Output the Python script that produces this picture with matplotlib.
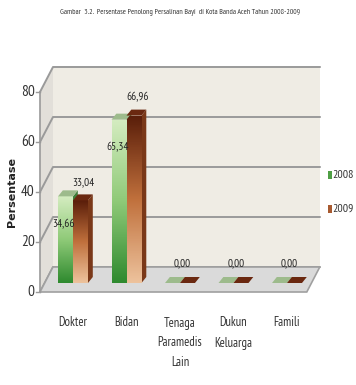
#!/usr/bin/env python

import numpy as np
import matplotlib
matplotlib.use("Agg")
import matplotlib.pyplot as plt
from matplotlib.patches import Polygon, Rectangle
from matplotlib.colors import LinearSegmentedColormap

categories = ["Dokter", "Bidan", "Tenaga\nParamedis\nLain", "Dukun\nKeluarga", "Famili"]
val_2008 = [34.66, 65.34, 0.00, 0.00, 0.00]
val_2009 = [33.04, 66.96, 0.00, 0.00, 0.00]
series = ["2008", "2009"]
y_ticks = [0, 20, 40, 60, 80]
title = "Gambar  3.2.  Persentase Penolong Persalinan Bayi  di Kota Banda Aceh Tahun 2008-2009"

NARROW = ["PT Sans Narrow", "DejaVu Sans"]


def fmt(v):
    return f"{v:.2f}".replace(".", ",")


fig = plt.figure(figsize=(3.56, 3.85), dpi=100)
ax = fig.add_axes([0, 0, 1, 1])
ax.set_xlim(-1.3645, 5.2897)
ax.set_ylim(-37.2, 116.8)
ax.axis("off")

# fake 3d box
xl, xr = -0.617, 4.37
ddx, ddy = 0.243, 10.0
top = 80

ax.add_patch(Polygon([(xl + ddx, ddy), (xr + ddx, ddy), (xr + ddx, top + ddy), (xl + ddx, top + ddy)],
                     closed=True, fc="#efece4", ec="none", zorder=1))
ax.add_patch(Polygon([(xl, 0), (xl + ddx, ddy), (xl + ddx, top + ddy), (xl, top)],
                     closed=True, fc="#e2dfd9", ec="none", zorder=1))
ax.add_patch(Polygon([(xl, 0), (xr, 0), (xr + ddx, ddy), (xl + ddx, ddy)],
                     closed=True, fc="#dadada", ec="#a0a0a0", lw=1.2, zorder=2))

for t in y_ticks:
    ax.plot([xl, xl + ddx, xr + ddx], [t, t + ddy, t + ddy], color="#9a9a9a", lw=1.4, zorder=1.5)
    ax.plot([xl - 0.07, xl], [t, t], color="#9a9a9a", lw=1.0, zorder=3)
    ax.text(xl - 0.1, t, str(t), ha="right", va="center", fontsize=11,
            family=NARROW, color="#333333")
ax.plot([xl, xl], [0, top], color="#9a9a9a", lw=1.2, zorder=3)

ax.text(-1.14, 40, "Persentase", rotation=90, ha="center", va="center",
        fontsize=8, fontweight="bold", color="#222222")
ax.text(2.0, 112, title, ha="center", va="center", fontsize=5.6, family=NARROW, color="#333333")

green = LinearSegmentedColormap.from_list("g", ["#2f8a2f", "#8fca78", "#d4ecc0"])
brown = LinearSegmentedColormap.from_list("b", ["#edc29c", "#c0703c", "#5a1e0a"])
grad = np.linspace(0, 1, 100).reshape(-1, 1)

base = 3.6
w = 0.28
bdx, bdy = 0.09, 2.4
x = np.arange(len(categories))

for i in x:
    for k, (vals, cmap, topc, sidec) in enumerate([
            (val_2008, green, "#9dbb8c", "#3f7f3a"),
            (val_2009, brown, "#6a2810", "#7a3818")]):
        v = vals[i]
        x0 = i - w if k == 0 else i
        if v > 0:
            rect = Rectangle((x0, base), w, v, fc="none", ec="none")
            ax.add_patch(rect)
            im = ax.imshow(grad, cmap=cmap, origin="lower", aspect="auto",
                           extent=(x0, x0 + w, base, base + v), zorder=4)
            im.set_clip_path(rect)
            ax.add_patch(Polygon([(x0 + w, base), (x0 + w + bdx, base + bdy),
                                  (x0 + w + bdx, base + v + bdy), (x0 + w, base + v)],
                                 closed=True, fc=sidec, ec="none", zorder=3.9))
        ax.add_patch(Polygon([(x0, base + v), (x0 + w, base + v),
                              (x0 + w + bdx, base + v + bdy), (x0 + bdx, base + v + bdy)],
                             closed=True, fc=topc, ec="none", zorder=4.5))

    if val_2008[i] > 0:
        ax.text(i - 0.17, base + val_2008[i] - 11, fmt(val_2008[i]), ha="center", va="center",
                fontsize=8, family=NARROW, color="#222222", zorder=6)
    if val_2009[i] > 0:
        ax.text(i + 0.2, base + val_2009[i] + bdy + 5, fmt(val_2009[i]), ha="center", va="center",
                fontsize=8, family=NARROW, color="#222222", zorder=6)
    else:
        ax.text(i + 0.05, base + bdy + 5.6, fmt(val_2009[i]), ha="center", va="center",
                fontsize=8, family=NARROW, color="#222222", zorder=6)

    ax.text(i, -9.8, categories[i], ha="center", va="top", fontsize=9,
            family=NARROW, color="#333333", linespacing=1.7)

# legend
for j, (name, c) in enumerate(zip(series, ["#4f9f45", "#a85a30"])):
    yy = 46.8 - 13.6 * j
    ax.add_patch(Rectangle((4.76, yy - 1.6), 0.075, 3.4, fc=c, ec="none"))
    ax.text(4.855, yy, name, ha="left", va="center", fontsize=8.5, family=NARROW, color="#333333")

plt.savefig("out.png", dpi=100)
